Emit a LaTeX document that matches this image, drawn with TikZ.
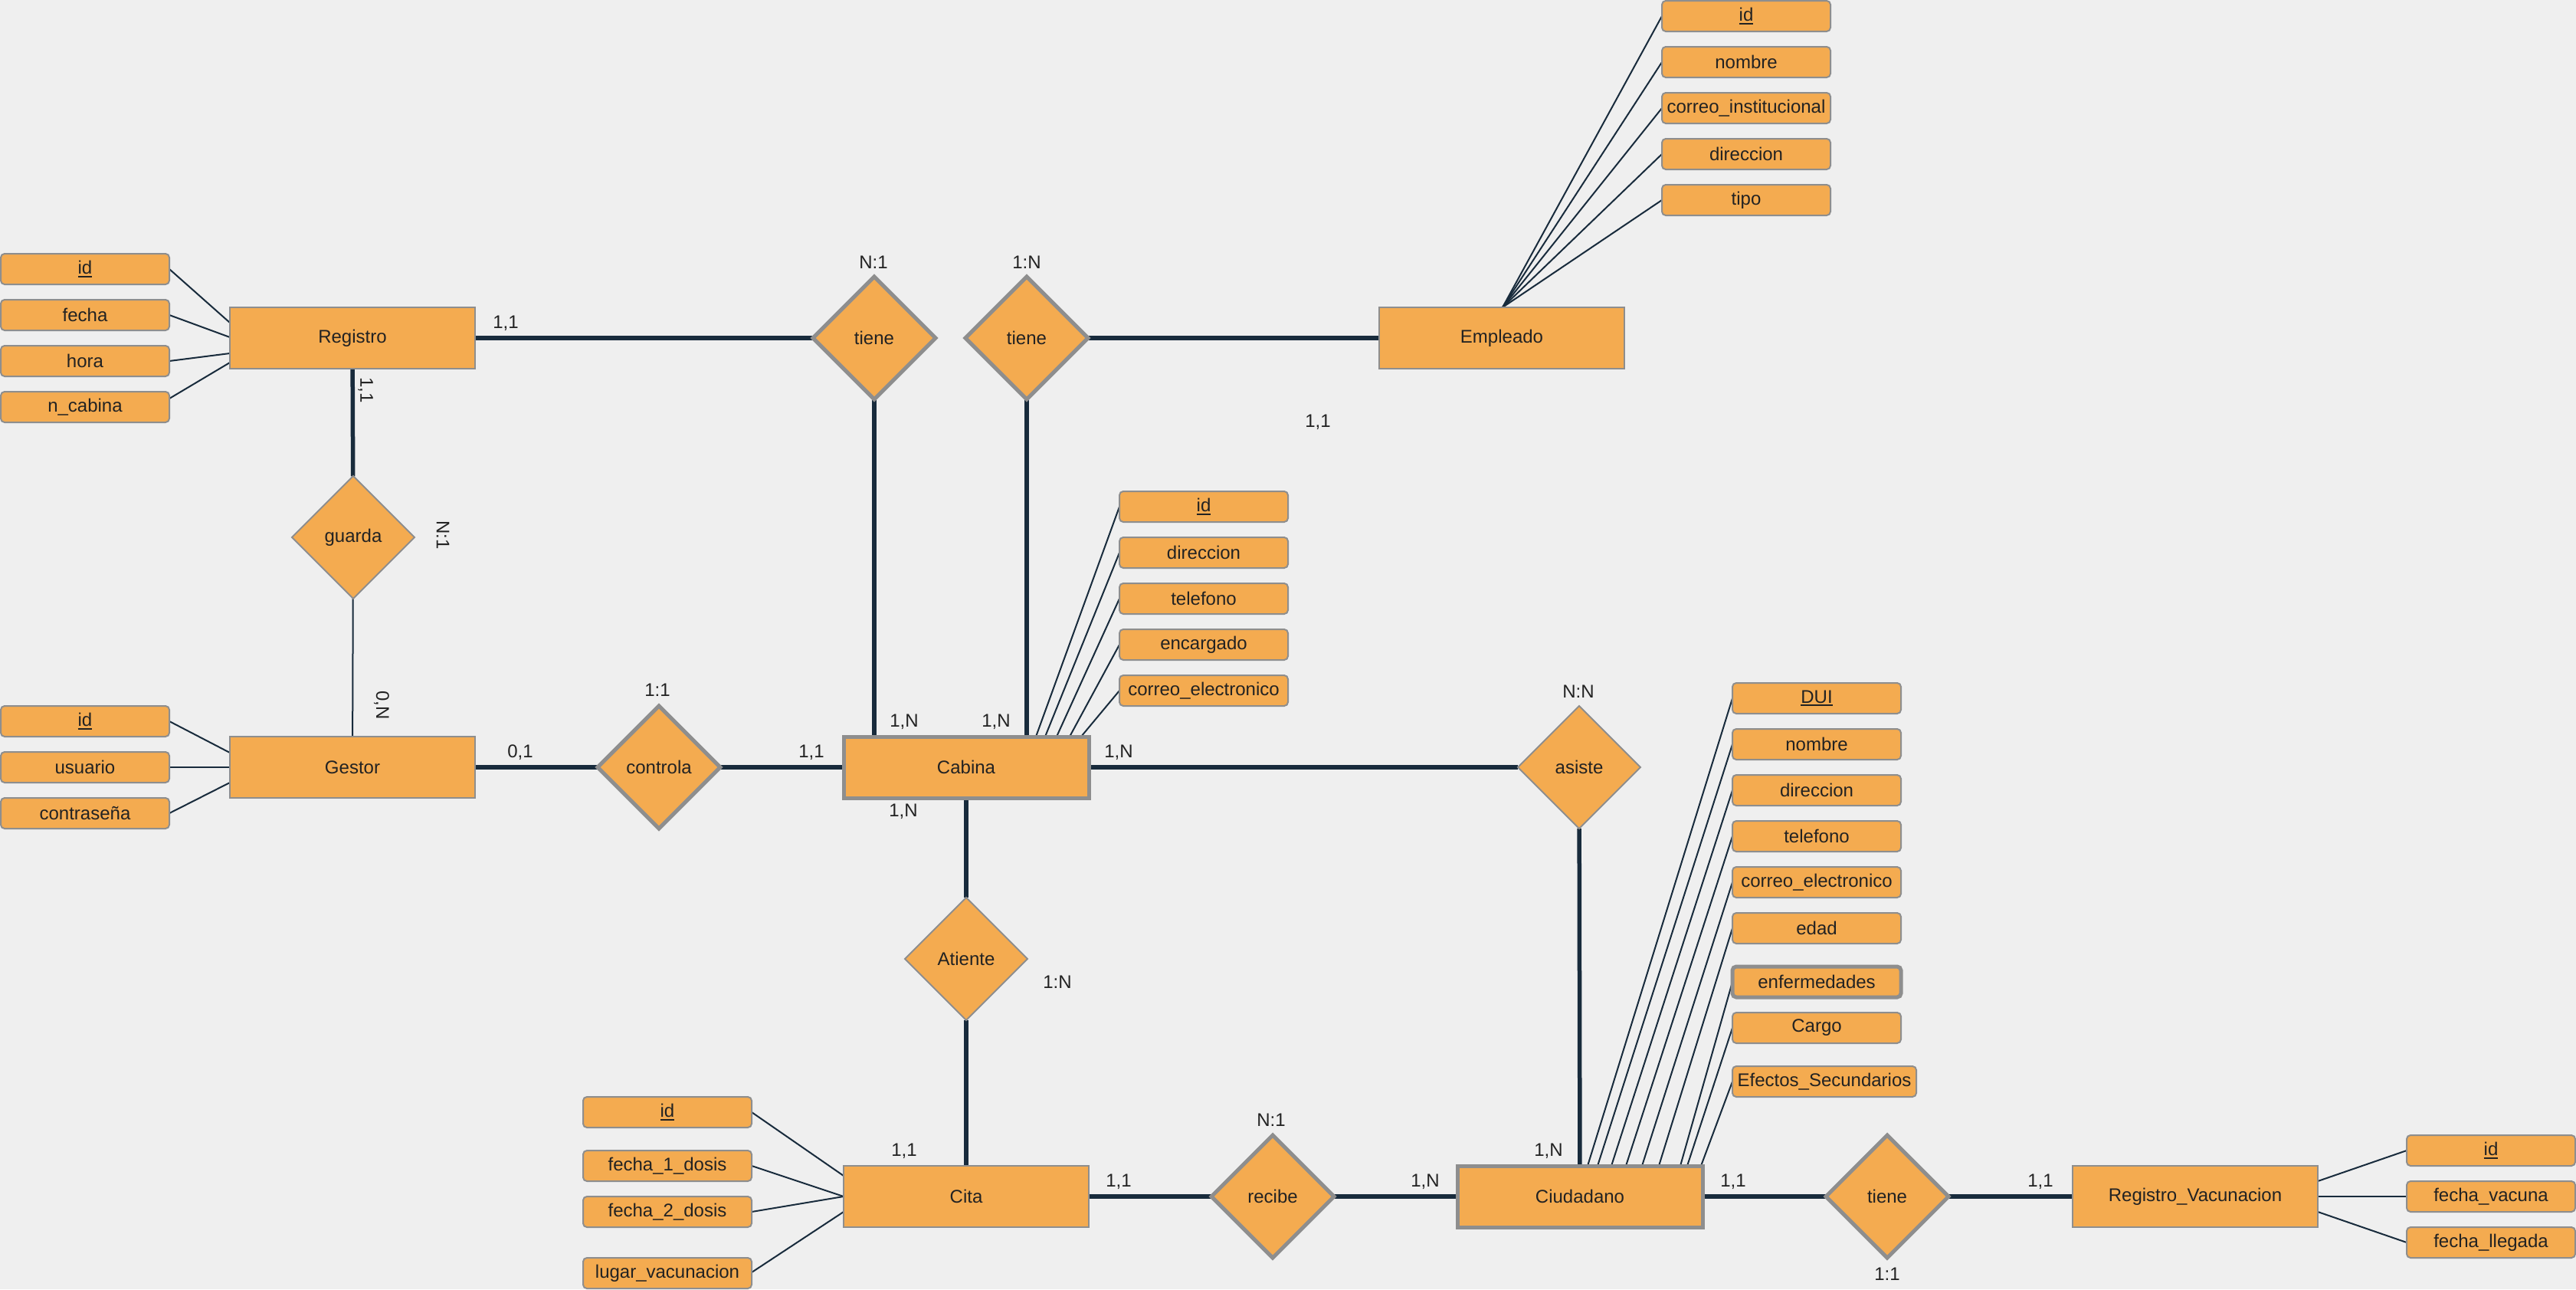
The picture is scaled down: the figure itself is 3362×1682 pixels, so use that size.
\documentclass[tikz,border=0pt]{standalone}
\usepackage{fontspec}
\setmainfont{Liberation Sans}
\usetikzlibrary{shapes.geometric,calc}
\definecolor{bgc}{HTML}{EFEFEF}
\definecolor{orf}{HTML}{F4AB50}
\definecolor{bd}{HTML}{8E8E8E}
\definecolor{ln}{HTML}{182B3C}
\definecolor{tx}{HTML}{222222}
\pgfdeclarelayer{bg}
\pgfsetlayers{bg,main}
% key attribute: text with a thick underline
\newcommand{\keyu}[1]{\setbox0\hbox{#1}\rlap{\rule[-4pt]{\wd0}{1.8pt}}\box0}
\tikzset{
  ent/.style={draw=bd, fill=orf, line width=2pt, minimum width=320pt, minimum height=80pt,
              inner sep=0pt, outer sep=0pt, text=tx},
  entb/.style={ent, line width=5pt},
  rel/.style={diamond, draw=bd, fill=orf, line width=2pt, minimum width=160pt, minimum height=160pt,
              inner sep=0pt, outer sep=0pt, aspect=1, text=tx},
  relb/.style={rel, line width=5pt},
  att/.style={draw=bd, fill=orf, rounded corners=5pt, line width=2pt, minimum width=220pt,
              minimum height=40pt, inner sep=0pt, outer sep=0pt, text=tx},
  attb/.style={att, line width=5pt},
  link/.style={draw=ln, line width=5.5pt},
  alink/.style={draw=ln, line width=2pt},
  lab/.style={text=tx, inner sep=0pt},
}
\begin{document}
\begin{tikzpicture}[x=1pt, y=-1pt, font=\fontsize{24}{28}\selectfont]
\useasboundingbox (0,0) rectangle (3362,1682);

% entities
\node[ent]  (reg)  at (460,441)   {Registro};
\node[ent]  (ges)  at (460,1001)  {Gestor};
\node[ent]  (emp)  at (1960,441)  {Empleado};
\node[entb] (cab)  at (1261,1001) {Cabina};
\node[ent]  (cita) at (1261,1561) {Cita};
\node[entb] (ciu)  at (2062,1561) {Ciudadano};
\node[ent]  (rv)   at (2865,1561) {Registro\_Vacunacion};

% relationships
\node[rel]  (guarda)  at (461,701)   {guarda};
\node[relb] (t1)      at (1141,441)  {tiene};
\node[relb] (t2)      at (1340,441)  {tiene};
\node[relb] (contr)   at (860,1001)  {controla};
\node[rel]  (asiste)  at (2061,1001) {asiste};
\node[rel]  (atiende) at (1261,1251) {Atiente};
\node[relb] (recibe)  at (1661,1561) {recibe};
\node[relb] (t3)      at (2463,1561) {tiene};

% attributes of Registro
\node[att] (ra1) at (111,351) {\keyu{id}};
\node[att] (ra2) at (111,411) {fecha};
\node[att] (ra3) at (111,471) {hora};
\node[att] (ra4) at (111,531) {n\_cabina};
% attributes of Gestor
\node[att] (ga1) at (111,941)  {\keyu{id}};
\node[att] (ga2) at (111,1001) {usuario};
\node[att] (ga3) at (111,1061) {contraseña};
% attributes of Empleado
\node[att] (ea1) at (2279,21)  {\keyu{id}};
\node[att] (ea2) at (2279,81)  {nombre};
\node[att] (ea3) at (2279,141) {correo\_institucional};
\node[att] (ea4) at (2279,201) {direccion};
\node[att] (ea5) at (2279,261) {tipo};
% attributes of Cabina
\node[att] (ca1) at (1571,661) {\keyu{id}};
\node[att] (ca2) at (1571,721) {direccion};
\node[att] (ca3) at (1571,781) {telefono};
\node[att] (ca4) at (1571,841) {encargado};
\node[att] (ca5) at (1571,901) {correo\_electronico};
% attributes of Cita
\node[att] (ta1) at (871,1451) {\keyu{id}};
\node[att] (ta2) at (871,1521) {fecha\_1\_dosis};
\node[att] (ta3) at (871,1581) {fecha\_2\_dosis};
\node[att] (ta4) at (871,1661) {lugar\_vacunacion};
% attributes of Ciudadano
\node[att]  (za1) at (2371,911)  {\keyu{DUI}};
\node[att]  (za2) at (2371,971)  {nombre};
\node[att]  (za3) at (2371,1031) {direccion};
\node[att]  (za4) at (2371,1091) {telefono};
\node[att]  (za5) at (2371,1151) {correo\_electronico};
\node[att]  (za6) at (2371,1211) {edad};
\node[attb] (za7) at (2371,1281) {enfermedades};
\node[att]  (za8) at (2371,1341) {Cargo};
\node[att, minimum width=240pt] (za9) at (2381,1411) {Efectos\_Secundarios};
% attributes of Registro_Vacunacion
\node[att] (va1) at (3251,1501) {\keyu{id}};
\node[att] (va2) at (3251,1561) {fecha\_vacuna};
\node[att] (va3) at (3251,1621) {fecha\_llegada};

% cardinality labels
\node[lab] (lb1)  at (660,422)   {1,1};
\node[lab, rotate=-90] (lb2) at (477,509) {1,1};
\node[lab, rotate=-90] (lb3) at (578,698) {N:1};
\node[lab, rotate=-90] (lb4) at (498,920) {0,N};
\node[lab] (lb5)  at (679,982)   {0,1};
\node[lab] (lb6)  at (1140,342)  {N:1};
\node[lab] (lb7)  at (1340,342)  {1:N};
\node[lab] (lb8)  at (1720,551)  {1,1};
\node[lab] (lb9)  at (858,900)   {1:1};
\node[lab] (lb10) at (1059,982)  {1,1};
\node[lab] (lb11) at (1180,942)  {1,N};
\node[lab] (lb12) at (1300,942)  {1,N};
\node[lab] (lb13) at (1460,982)  {1,N};
\node[lab] (lb14) at (1179,1059) {1,N};
\node[lab] (lb15) at (2060,902)  {N:N};
\node[lab] (lb16) at (1380,1281) {1:N};
\node[lab] (lb17) at (1180,1502) {1,1};
\node[lab] (lb18) at (1460,1542) {1,1};
\node[lab] (lb19) at (1659,1461) {N:1};
\node[lab] (lb20) at (1860,1542) {1,N};
\node[lab] (lb21) at (2021,1502) {1,N};
\node[lab] (lb22) at (2262,1542) {1,1};
\node[lab] (lb23) at (2663,1542) {1,1};
\node[lab] (lb24) at (2463,1662) {1:1};

\begin{pgfonlayer}{bg}
\fill[bgc] (0,0) rectangle (3362,1682);

% relationship connectors
\draw[link] (reg) -- (t1);
\draw[link] (t2) -- (emp);
\draw[link] (reg) -- (guarda);
\draw[alink] (guarda) -- (ges);
\draw[link] (t1.south) -- (t1.south |- cab.north);
\draw[link] (t2.south) -- (t2.south |- cab.north);
\draw[link] (ges) -- (contr);
\draw[link] (contr) -- (cab);
\draw[link] (cab) -- (asiste);
\draw[link] (asiste) -- (ciu);
\draw[link] (cab) -- (atiende);
\draw[link] (atiende) -- (cita);
\draw[link] (cita) -- (recibe);
\draw[link] (recibe) -- (ciu);
\draw[link] (ciu) -- (t3);
\draw[link] (t3) -- (rv);

% attribute connectors
\draw[alink] (ra1.east) -- ($(reg.west)+(0,-20)$);
\draw[alink] (ra2.east) -- ($(reg.west)+(0,-1)$);
\draw[alink] (ra3.east) -- ($(reg.west)+(0,20)$);
\draw[alink] ($(ra4.east)+(0,-11)$) -- ($(reg.west)+(0,32)$);

\draw[alink] (ga1.east) -- ($(ges.west)+(0,-19)$);
\draw[alink] (ga2.east) -- (ges.west);
\draw[alink] (ga3.east) -- ($(ges.west)+(0,20)$);

\foreach \i in {1,...,5}
  \draw[alink] (ea\i.west) -- ($(emp.north)+(1,0)$);

\foreach \i/\d in {1/251,2/263,3/278,4/295,5/310}
  \draw[alink] (ca\i.west) -- ($(cab.north west)+(\d,0)$);

\draw[alink] (ta1.east) -- ($(cita.west)+(0,-27)$);
\draw[alink] (ta2.east) -- (cita.west);
\draw[alink] (ta3.east) -- (cita.west);
\draw[alink] ($(ta4.east)+(0,-1)$) -- ($(cita.west)+(0,20)$);

\foreach \i/\d in {1/170,2/183,3/201,4/220,5/241,6/263,7/291,8/300,9/318}
  \draw[alink] (za\i.west) -- ($(ciu.north west)+(\d,0)$);

\draw[alink] ($(rv.east)+(0,-20)$) -- (va1.west);
\draw[alink] (rv.east) -- (va2.west);
\draw[alink] ($(rv.east)+(0,20)$) -- (va3.west);
\end{pgfonlayer}
\end{tikzpicture}
\end{document}
